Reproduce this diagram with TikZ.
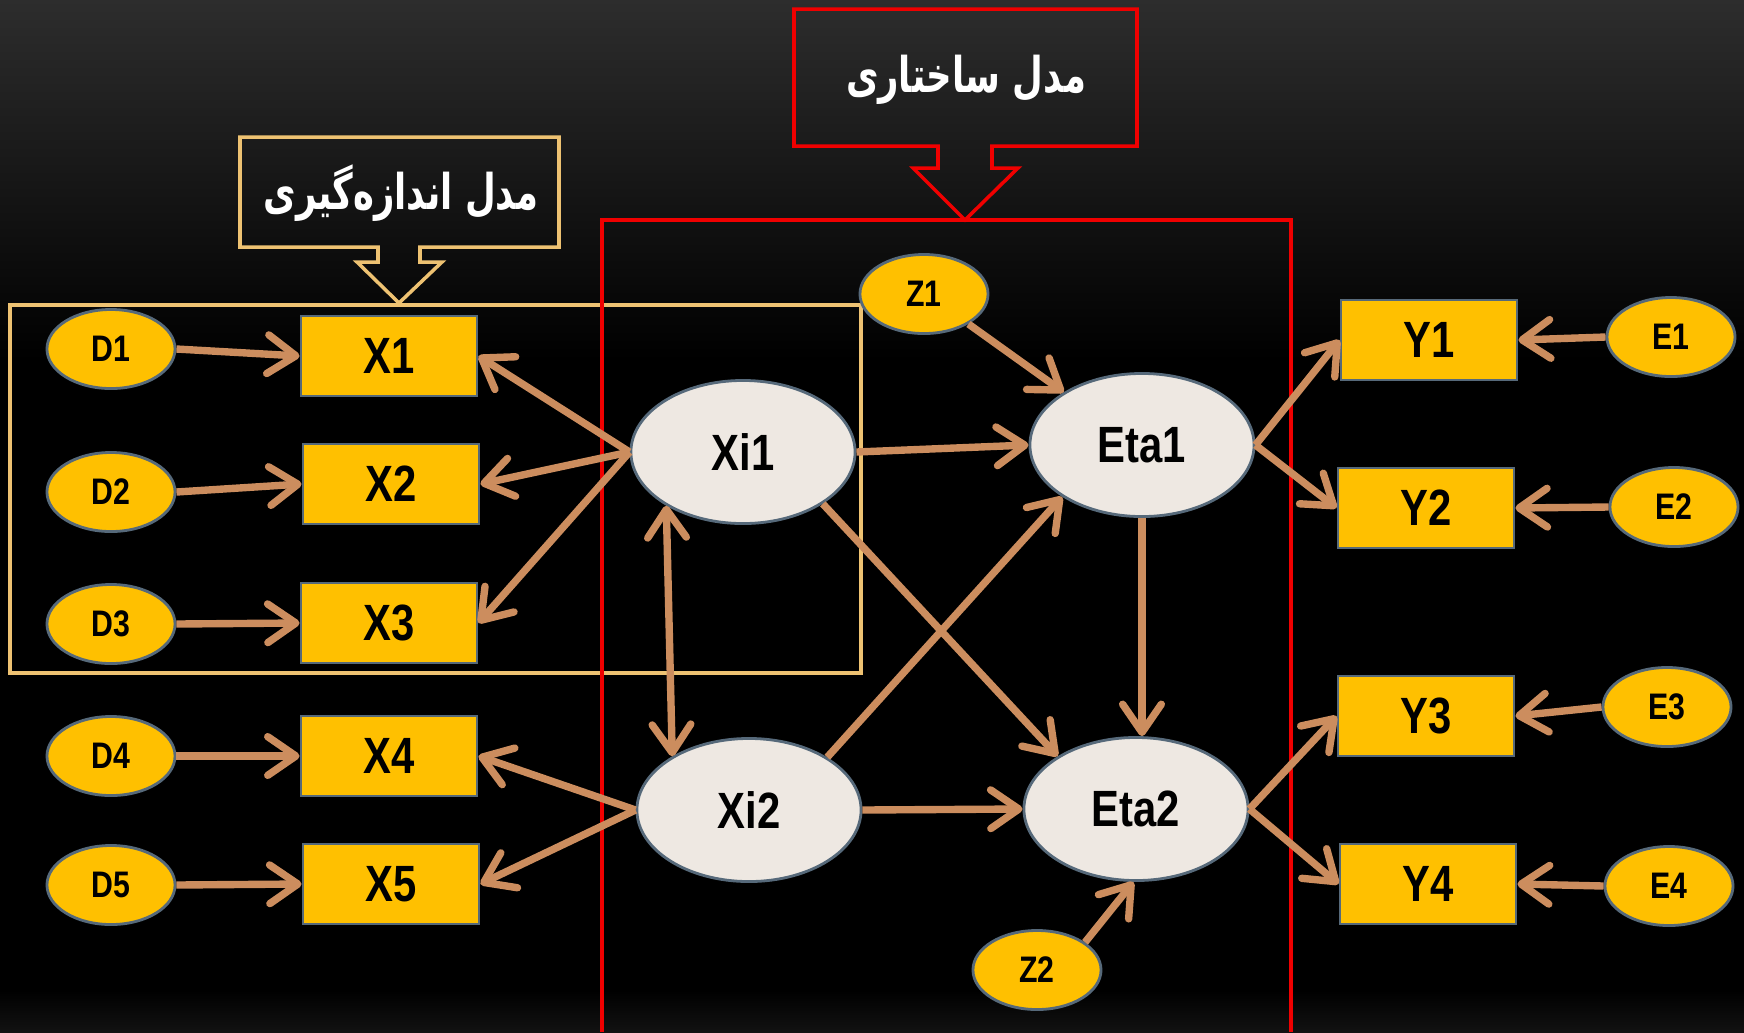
\documentclass[tikz,border=0pt]{standalone}
\usepackage{fontspec}
\usetikzlibrary{arrows.meta,shapes.geometric}
\newfontfamily\labfont[FakeStretch=0.82]{Liberation Sans}
\newfontfamily\fafont[Script=Arabic,FakeStretch=0.72]{DejaVu Sans}
\TeXXeTstate=1
\definecolor{gold}{HTML}{FFC000}
\definecolor{edgeblue}{HTML}{56697A}
\definecolor{latent}{HTML}{EEE8E2}
\definecolor{arrowtan}{HTML}{CC8D5E}
\definecolor{calloutgold}{HTML}{EEC272}
\definecolor{calloutred}{HTML}{F00000}
\definecolor{bgtop}{HTML}{2D2D2D}
\tikzset{
  obsbox/.style={rectangle, draw=edgeblue, fill=gold, line width=0.8pt,
    minimum width=1.76cm, minimum height=0.8cm, inner sep=0pt,
    font={\labfont\bfseries\fontsize{14.5}{16}\selectfont}},
  errell/.style={ellipse, draw=edgeblue, fill=gold, line width=0.8pt,
    minimum width=1.28cm, minimum height=0.79cm, inner sep=0pt,
    font={\labfont\bfseries\fontsize{10.5}{12}\selectfont}},
  latell/.style={ellipse, draw=edgeblue, fill=latent, line width=0.8pt,
    minimum width=2.24cm, minimum height=1.43cm, inner sep=0pt,
    font={\labfont\bfseries\fontsize{14.5}{16}\selectfont}},
  conn/.style={draw=arrowtan, line width=2.1pt,
    -{Straight Barb[length=8pt,width=11pt,round]}},
  biconn/.style={draw=arrowtan, line width=2.1pt,
    {Straight Barb[length=8pt,width=11pt,round]}-{Straight Barb[length=8pt,width=11pt,round]}},
  fatext/.style={text=white, font={\fafont\bfseries\fontsize{14}{18}\selectfont}},
}
\begin{document}
\begin{tikzpicture}[x=0.01cm,y=-0.01cm]
\useasboundingbox (0,0) rectangle (1744,1032);
% background
\shade[top color=bgtop, bottom color=black] (0,0) rectangle (1744,360);
\fill[black] (0,360) rectangle (1744,990);
\shade[top color=black, bottom color=black!93!white] (0,990) rectangle (1744,1032);

% frames
\draw[calloutgold, line width=1pt] (10,305) rectangle (861,673);
\draw[calloutred, line width=1pt] (602,1032) -- (602,220) -- (1291,220) -- (1291,1032);

% callouts
\draw[calloutgold, line width=1pt] (240,137) -- (559,137) -- (559,247) -- (420,247) -- (420,262) -- (442,262) -- (399,303) -- (357,262) -- (378,262) -- (378,247) -- (240,247) -- cycle;
\node[fatext] (mlabel) at (401,193) {\beginR مدل اندازه‌گیری\endR};
\draw[calloutred, line width=1pt] (794,9) -- (1137,9) -- (1137,146) -- (992,146) -- (992,168) -- (1018,168) -- (965,220) -- (913,168) -- (938,168) -- (938,146) -- (794,146) -- cycle;
\node[fatext] (slabel) at (966,80) {\beginR مدل ساختاری\endR};

% observed X
\node[obsbox] (x1) at (389,356) {X1};
\node[obsbox] (x2) at (391,484) {X2};
\node[obsbox] (x3) at (389,623) {X3};
\node[obsbox] (x4) at (389,756) {X4};
\node[obsbox] (x5) at (391,884) {X5};
% D errors
\node[errell] (d1) at (111,349) {D1};
\node[errell] (d2) at (111,492) {D2};
\node[errell] (d3) at (111,624) {D3};
\node[errell] (d4) at (111,756) {D4};
\node[errell] (d5) at (111,885) {D5};
% latent
\node[latell] (xi1) at (743,452) {Xi1};
\node[latell] (xi2) at (749,810) {Xi2};
\node[latell] (eta1) at (1142,445) {Eta1};
\node[latell] (eta2) at (1136,809) {Eta2};
% disturbances
\node[errell] (z1) at (924,294) {Z1};
\node[errell] (z2) at (1037,970) {Z2};
% observed Y
\node[obsbox] (y1) at (1429,340) {Y1};
\node[obsbox] (y2) at (1426,508) {Y2};
\node[obsbox] (y3) at (1426,716) {Y3};
\node[obsbox] (y4) at (1428,884) {Y4};
% E errors
\node[errell] (e1) at (1671,337) {E1};
\node[errell] (e2) at (1674,507) {E2};
\node[errell] (e3) at (1667,707) {E3};
\node[errell] (e4) at (1669,886) {E4};

% connectors
\draw[conn] (d1.east) -- (x1.west);
\draw[conn] (d2.east) -- (x2.west);
\draw[conn] (d3.east) -- (x3.west);
\draw[conn] (d4.east) -- (x4.west);
\draw[conn] (d5.east) -- (x5.west);

\draw[conn] (xi1.west) -- (x1.east);
\draw[conn] (xi1.west) -- (x2.east);
\draw[conn] (xi1.west) -- (x3.east);
\draw[conn] (xi2.west) -- (x4.east);
\draw[conn] (xi2.west) -- (x5.east);

\draw[biconn] (xi1.215) -- (xi2.145);

\draw[conn] (xi1.east) -- (eta1.west);
\draw[conn] (xi1.-33) -- (eta2.146);
\draw[conn] (xi2.34) -- (eta1.213);
\draw[conn] (xi2.east) -- (eta2.west);
\draw[conn] (eta1.south) -- (eta1.south |- eta2.north);
\draw[conn] (z1.-34) -- (eta1.146);
\draw[conn] (z2.30) -- (eta2.-92);

\draw[conn] (eta1.east) -- (y1.west);
\draw[conn] (eta1.east) -- (y2.west);
\draw[conn] (eta2.east) -- (y3.west);
\draw[conn] (eta2.east) -- (y4.west);

\draw[conn] (e1.west) -- (y1.east);
\draw[conn] (e2.west) -- (y2.east);
\draw[conn] (e3.west) -- (y3.east);
\draw[conn] (e4.west) -- (y4.east);
\end{tikzpicture}
\end{document}
